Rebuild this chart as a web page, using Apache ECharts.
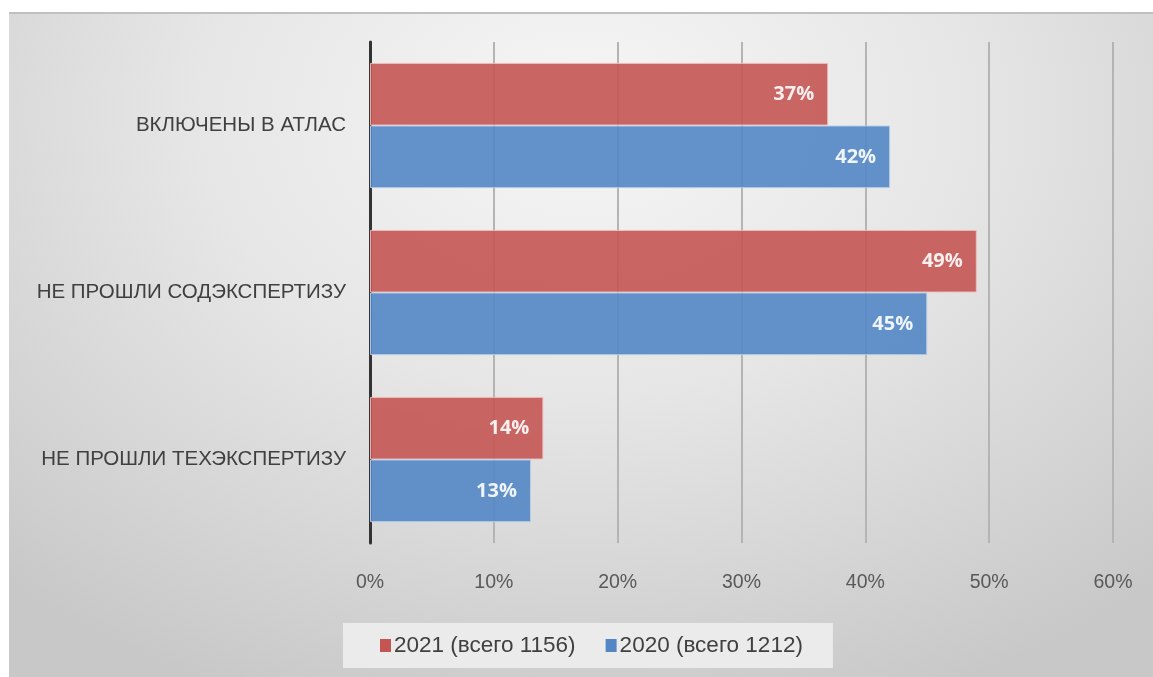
<!DOCTYPE html>
<html>
<head>
<meta charset="utf-8">
<script src="https://cdn.jsdelivr.net/npm/echarts@6/dist/echarts.min.js"></script>
<style>
html,body{margin:0;padding:0;background:#fff;width:1153px;height:677px;overflow:hidden;}
#bg{position:absolute;left:9px;top:12px;width:1144px;height:665px;
 background:radial-gradient(ellipse 75% 95% at 50% 15%, #f6f6f6 0%, #e6e6e6 45%, #c8c8c8 100%);
 border-top:2px solid #c0c0c0;box-sizing:border-box;}
#chart{position:absolute;left:0;top:0;width:1153px;height:677px;}
</style>
</head>
<body>
<div id="bg"></div>
<div id="chart"></div>
<script>
const categories = ['ВКЛЮЧЕНЫ В АТЛАС', 'НЕ ПРОШЛИ СОДЭКСПЕРТИЗУ', 'НЕ ПРОШЛИ ТЕХЭКСПЕРТИЗУ'];
const seriesNames = ['2021 (всего 1156)', '2020 (всего 1212)'];
const values2021 = [37, 49, 14];
const values2020 = [42, 45, 13];
const xTicks = [0, 10, 20, 30, 40, 50, 60];

const chart = echarts.init(document.getElementById('chart'), null, {renderer: 'canvas'});
const labelStyle = {
  show: true, position: 'insideRight', distance: 14,
  color: '#ffffff', fontWeight: 'bold', fontSize: 20,
  fontFamily: 'Open Sans, Liberation Sans, sans-serif',
  formatter: p => p.value + '%'
};
chart.setOption({
  backgroundColor: 'transparent',
  animation: false,
  grid: {left: 370, right: 40, top: 42, bottom: 134, containLabel: false},
  legend: {
    left: 343, top: 623, width: 488,
    backgroundColor: '#ebebeb',
    padding: [11, 30, 11, 37],
    itemWidth: 11, itemHeight: 13, itemGap: 30,
    icon: 'rect',
    itemStyle: {borderWidth: 0, opacity: 1},
    textStyle: {color: '#404040', fontSize: 22.5, fontFamily: 'Liberation Sans, sans-serif', padding: [0, 0, 0, -2]},
    data: seriesNames
  },
  xAxis: {
    type: 'value', min: xTicks[0], max: xTicks[xTicks.length - 1], interval: 10,
    axisLine: {show: false}, axisTick: {show: false},
    splitLine: {show: true, lineStyle: {color: '#b4b4b4', width: 2}},
    axisLabel: {margin: 30, color: '#595959', fontSize: 19.5, fontFamily: 'Liberation Sans, sans-serif',
      formatter: v => v + '%'}
  },
  yAxis: {
    type: 'category', data: categories, inverse: true,
    axisLine: {show: true, lineStyle: {color: '#333333', width: 3}},
    axisTick: {show: false},
    axisLabel: {margin: 24, color: '#404040', fontSize: 20.5, fontFamily: 'Liberation Sans, sans-serif'}
  },
  series: [
    {name: seriesNames[0], type: 'bar', data: values2021, barGap: '0%', barCategoryGap: '25%',
     itemStyle: {color: '#C45552', opacity: 0.9, borderColor: '#efc0be', borderWidth: 1},
     label: labelStyle, z: 1},
    {name: seriesNames[1], type: 'bar', data: values2020, barGap: '0%', barCategoryGap: '25%',
     itemStyle: {color: '#5386C4', opacity: 0.9, borderColor: '#b9cfea', borderWidth: 1},
     label: labelStyle, z: 1}
  ]
});
</script>
</body>
</html>
